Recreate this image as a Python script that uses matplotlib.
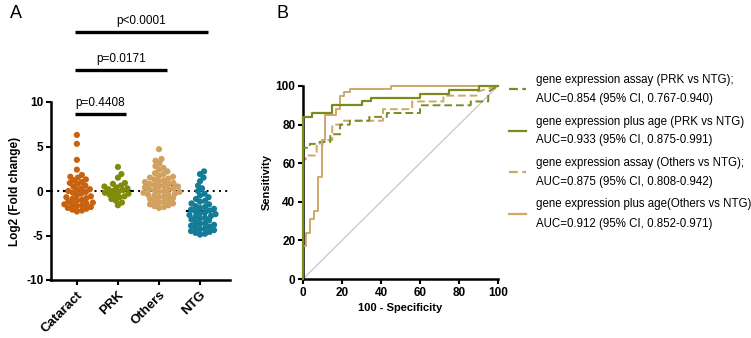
import numpy as np
import matplotlib
matplotlib.use('Agg')
import matplotlib.pyplot as plt
from matplotlib.lines import Line2D

# ---- panel A data (log2 fold change per group) ----
groups = ['Cataract', 'PRK', 'Others', 'NTG']
group_colors = ['#c8620f', '#7f8c0b', '#d2a160', '#137d97']

cataract = [6.3, 5.3, 3.5, 2.4, 1.8, 1.6, 1.5, 1.3, 1.2, 1.0, 0.9, 0.8, 0.6, 0.5,
            0.3, 0.2, 0.1, 0.0, -0.1, -0.2, -0.3, -0.5, -0.6, -0.7, -0.8, -0.9,
            -1.0, -1.1, -1.2, -1.3, -1.4, -1.5, -1.5, -1.6, -1.7, -1.8, -1.9,
            -2.0, -2.1, -2.2, -2.3]
prk = [2.7, 1.9, 1.5, 0.9, 0.8, 0.6, 0.5, 0.4, 0.3, 0.2, 0.1, 0.0, -0.1, -0.2,
       -0.3, -0.4, -0.5, -0.6, -0.7, -0.9, -1.1, -1.3, -1.6]
others = [4.7, 3.6, 3.4, 3.1, 2.8, 2.6, 2.4, 2.2, 2.0, 1.9, 1.7, 1.6, 1.5, 1.4,
          1.3, 1.2, 1.1, 1.0, 0.9, 0.8, 0.8, 0.7, 0.6, 0.5, 0.5, 0.4, 0.3, 0.2,
          0.2, 0.1, 0.0, -0.1, -0.1, -0.2, -0.3, -0.4, -0.4, -0.5, -0.6, -0.7,
          -0.8, -0.9, -1.0, -1.1, -1.2, -1.3, -1.4, -1.5, -1.6, -1.7, -1.8, -1.9]
ntg = [2.2, 1.9, 1.5, 1.1, 0.6, 0.3, 0.0, -0.3, -0.5, -0.7, -0.9, -1.1, -1.2,
       -1.4, -1.5, -1.7, -1.8, -1.9, -2.0, -2.1, -2.2, -2.3, -2.4, -2.5, -2.6,
       -2.7, -2.8, -2.9, -3.0, -3.1, -3.2, -3.3, -3.5, -3.6, -3.7, -3.8, -3.9,
       -4.0, -4.1, -4.2, -4.3, -4.4, -4.5, -4.6, -4.7, -4.8, -4.9]
medians = [0.0, 0.0, 0.7, -2.3]

p_labels = ['p=0.4408', 'p=0.0171', 'p<0.0001']
p_targets = [1, 2, 3]
p_heights = [8.7, 13.6, 17.9]

# ---- panel B data (ROC curves, % values) ----
prk_assay_fpr = [0, 0, 3.5, 3.5, 8.5, 8.5, 14, 14, 19, 19, 24, 24, 34, 34, 43, 43, 60, 60, 86, 86, 95, 95, 100]
prk_assay_tpr = [0, 68, 68, 70, 70, 71, 71, 75, 75, 80, 80, 82, 82, 84, 84, 86, 86, 90, 90, 92, 92, 97, 100]
prk_age_fpr = [0, 0, 4.5, 4.5, 15, 15, 30, 30, 35, 35, 60, 60, 75, 75, 90, 90, 100]
prk_age_tpr = [0, 84, 84, 86, 86, 90, 90, 92, 92, 94, 94, 96, 96, 98, 98, 100, 100]
others_assay_fpr = [0, 0, 1.5, 1.5, 7, 7, 10, 10, 15, 15, 21, 21, 41, 41, 56, 56, 72, 72, 89, 89, 100]
others_assay_tpr = [0, 62, 62, 64, 64, 69, 69, 72, 72, 80, 80, 82, 82, 88, 88, 92, 92, 95, 95, 97, 100]
others_age_fpr = [0, 0, 1.5, 1.5, 3.5, 3.5, 5.5, 5.5, 7.5, 7.5, 9.5, 9.5, 11.5, 11.5, 17, 17,
                  19, 19, 21, 21, 24, 24, 45, 45, 100]
others_age_tpr = [0, 17, 17, 24, 24, 31, 31, 35, 35, 53, 53, 72, 72, 85, 85, 88,
                  88, 95, 95, 97, 97, 98.5, 98.5, 100, 100]

legend_lines = [
    ('gene expression assay (PRK vs NTG);', 'AUC=0.854 (95% CI, 0.767-0.940)'),
    ('gene expression plus age (PRK vs NTG)', 'AUC=0.933 (95% CI, 0.875-0.991)'),
    ('gene expression assay (Others vs NTG);', 'AUC=0.875 (95% CI, 0.808-0.942)'),
    ('gene expression plus age(Others vs NTG)', 'AUC=0.912 (95% CI, 0.852-0.971)'),
]

olive = '#7d8a1e'
tan = '#cda86c'

plt.rcParams['font.family'] = ['Liberation Sans', 'DejaVu Sans']
plt.rcParams['axes.unicode_minus'] = False

fig = plt.figure(figsize=(7.51, 3.38), dpi=100)
W, H = 751, 338

def px_axes(l, r, t, b):
    return fig.add_axes([l / W, 1 - b / H, (r - l) / W, (b - t) / H])

def swarm(values, dmin, ypx, xpx):
    # simple beeswarm: place each point at the closest free x offset (pixels)
    vals = np.asarray(values, float)
    order = np.argsort(vals)
    placed = []
    offs = np.zeros(len(vals))
    cands = [0.0]
    for k in range(1, 80):
        cands += [k * 0.5, -k * 0.5]
    for i in order:
        y = vals[i] * ypx
        for c in cands:
            if all((c - px) ** 2 + (y - py) ** 2 >= dmin ** 2 for px, py in placed):
                break
        placed.append((c, y))
        offs[i] = c / xpx
    return offs

# ================= panel A =================
axA = px_axes(51, 230, 102, 280)
ypx = (280 - 102) / 20.0
xpx = (230 - 51) / 4.36
for i, m in enumerate(medians):
    axA.plot([i - 0.32, i + 0.32], [m, m], color='black', lw=1.6, zorder=1)
axA.axhline(0, color='black', lw=1.4, ls=(0, (1, 2.2)), zorder=0.5)
for i, (vals, col) in enumerate(zip([cataract, prk, others, ntg], group_colors)):
    xo = swarm(vals, 4.7, ypx, xpx)
    axA.scatter(i + xo, vals, s=20, color=col, edgecolors='none', zorder=3)
axA.set_xlim(-0.63, 3.73)
axA.set_ylim(-10, 10)
axA.set_yticks([-10, -5, 0, 5, 10])
axA.set_xticks(range(4))
axA.set_xticklabels(groups, rotation=45, ha='right', rotation_mode='anchor',
                    fontsize=9.5, fontweight='bold')
for lab in axA.get_yticklabels():
    lab.set_fontweight('bold')
axA.tick_params(axis='y', labelsize=8.5, width=1.5, length=3.5, pad=2)
axA.tick_params(axis='x', width=1.5, length=3.5, pad=3)
axA.set_ylabel('Log2 (Fold change)', fontsize=8.5, fontweight='bold', labelpad=4)
for s in ['top', 'right']:
    axA.spines[s].set_visible(False)
for s in ['left', 'bottom']:
    axA.spines[s].set_linewidth(1.8)

for lab, tgt, h in zip(p_labels, p_targets, p_heights):
    x0, x1 = -0.05, tgt + 0.2
    axA.plot([x0, x1], [h, h], color='black', lw=2.4, clip_on=False,
             solid_capstyle='butt')
    axA.text((x0 + x1) / 2, h + 0.55, lab, ha='center', va='bottom', fontsize=8.5,
             clip_on=False)

fig.text(10 / W, 1 - 14 / H, 'A', fontsize=13, va='center', ha='left')
fig.text(277 / W, 1 - 14 / H, 'B', fontsize=13, va='center', ha='left')

# ================= panel B =================
axB = px_axes(303, 498, 86, 279)
axB.plot([0, 100], [0, 100], color='#cccccc', lw=1.0, zorder=1)
axB.plot(others_assay_fpr, others_assay_tpr, color=tan, lw=1.4, ls=(0, (4, 2)), clip_on=False, zorder=2)
axB.plot(prk_assay_fpr, prk_assay_tpr, color=olive, lw=1.4, ls=(0, (4, 2)), clip_on=False, zorder=3)
axB.plot(others_age_fpr, others_age_tpr, color=tan, lw=1.4, clip_on=False, zorder=4)
axB.plot(prk_age_fpr, prk_age_tpr, color=olive, lw=1.6, clip_on=False, zorder=5)
axB.set_xlim(0, 100)
axB.set_ylim(0, 100)
axB.set_xticks(range(0, 101, 20))
axB.set_yticks(range(0, 101, 20))
axB.tick_params(labelsize=8.5, width=1.5, length=3.5, pad=2)
for lab in axB.get_xticklabels() + axB.get_yticklabels():
    lab.set_fontweight('bold')
axB.set_xlabel('100 - Specificity', fontsize=8, fontweight='bold', labelpad=3)
axB.set_ylabel('Sensitivity', fontsize=8, fontweight='bold', labelpad=3)
for s in ['top', 'right']:
    axB.spines[s].set_visible(False)
for s in ['left', 'bottom']:
    axB.spines[s].set_linewidth(1.8)

# legend drawn by hand
styles = [(olive, (0, (4, 2))), (olive, '-'), (tan, (0, (4, 2))), (tan, '-')]
for k, ((l1, l2), (c, ls)) in enumerate(zip(legend_lines, styles)):
    yc = 89 + k * 41.5
    fig.add_artist(Line2D([509 / W, 526 / W], [1 - yc / H, 1 - yc / H], color=c,
                          lw=1.6, ls=ls))
    fig.text(536 / W, 1 - (yc - 9) / H, l1, fontsize=8.3, va='center', ha='left')
    fig.text(536 / W, 1 - (yc + 10) / H, l2, fontsize=8.3, va='center', ha='left')

fig.savefig('out.png', dpi=100)
